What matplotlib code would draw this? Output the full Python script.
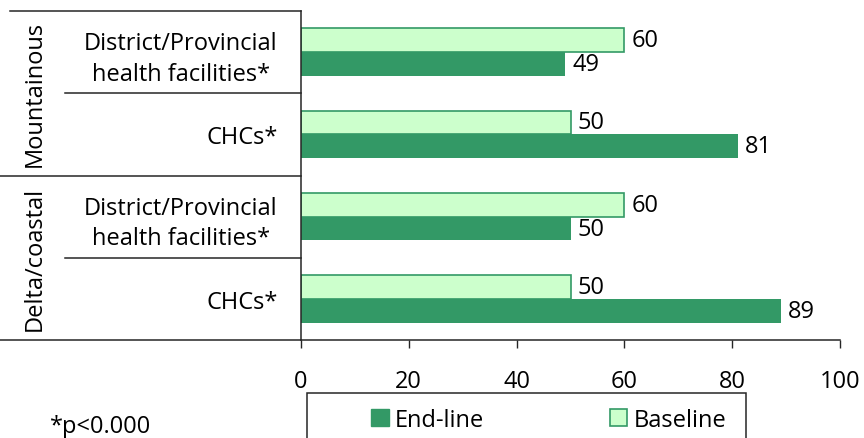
import matplotlib
matplotlib.use("Agg")
import matplotlib.pyplot as plt
from matplotlib.patches import Patch, Rectangle
from matplotlib.transforms import blended_transform_factory

# data
groups = ["Mountainous", "Delta/coastal"]
categories = [
    "District/Provincial\nhealth facilities*",
    "CHCs*",
    "District/Provincial\nhealth facilities*",
    "CHCs*",
]
baseline = [60, 50, 60, 50]
endline = [49, 81, 50, 89]
x_ticks = [0, 20, 40, 60, 80, 100]
footnote = "*p<0.000"

dark = "#339966"
light = "#CCFFCC"
line_col = "#262626"
fs = 17

plt.rcParams["font.family"] = ["Open Sans", "DejaVu Sans"]
plt.rcParams["font.size"] = fs

fig = plt.figure(figsize=(8.64, 4.39), dpi=100)
ax = fig.add_axes([301 / 864, 1 - 341 / 439, 539 / 864, 329 / 439])

ypos = list(range(len(categories)))
h = 0.29
b_base = ax.barh([y - h / 2 for y in ypos], baseline, height=h,
                 color=light, edgecolor=dark, linewidth=1.2)
b_end = ax.barh([y + h / 2 for y in ypos], endline, height=h,
                color=dark, edgecolor="none")
ax.bar_label(b_base, padding=5, fontsize=fs)
ax.bar_label(b_end, padding=5, fontsize=fs)

ax.set_xlim(0, 100)
ax.set_ylim(len(categories) - 0.5, -0.5)
ax.set_xticks(x_ticks)
ax.set_yticks(ypos)
ax.set_yticklabels(categories, linespacing=1.36)
for lbl in ax.get_yticklabels():
    lbl.set_multialignment("center")

ax.tick_params(axis="y", length=0, pad=17)
ax.tick_params(axis="x", length=6, width=1, color=line_col, direction="out", pad=15)
for s in ["top", "right"]:
    ax.spines[s].set_visible(False)
for s in ["left", "bottom"]:
    ax.spines[s].set_color(line_col)
    ax.spines[s].set_linewidth(1.1)

# group separators and labels to the left of the axis
tr = blended_transform_factory(ax.transAxes, ax.transData)
ax.plot([-0.54, 0], [-0.5, -0.5], color=line_col, lw=1.1, transform=tr, clip_on=False)
ax.plot([-0.56, 0], [1.5, 1.5], color=line_col, lw=1.1, transform=tr, clip_on=False)
ax.plot([-0.56, 0], [3.5, 3.5], color=line_col, lw=1.1, transform=tr, clip_on=False)
ax.plot([-0.438, 0], [0.5, 0.5], color=line_col, lw=1.1, transform=tr, clip_on=False)
ax.plot([-0.438, 0], [2.5, 2.5], color=line_col, lw=1.1, transform=tr, clip_on=False)

for i, g in enumerate(groups):
    ax.text(-0.4935, 2 * i + 0.5, g, rotation=90, ha="center", va="center",
            transform=tr, fontsize=fs)

# legend with a frame that runs off the bottom edge
fig.add_artist(Rectangle((307 / 864, -0.05), 439 / 864, 0.05 + 45 / 439,
                         transform=fig.transFigure, fill=False,
                         edgecolor=line_col, linewidth=1.1))
handles = [Patch(facecolor=dark, edgecolor=dark, label="End-line"),
           Patch(facecolor=light, edgecolor=dark, linewidth=1.2, label="Baseline")]
fig.legend(handles=handles, loc="center left", bbox_to_anchor=(359 / 864, 1 - 421 / 439),
           ncol=2, frameon=False, handlelength=0.76, handleheight=0.76,
           handletextpad=0.27, columnspacing=5.3, fontsize=fs, borderpad=0)

fig.text(50 / 864, 1 - 427 / 439, footnote, ha="left", va="center", fontsize=fs)

fig.savefig("out.png", dpi=100)
